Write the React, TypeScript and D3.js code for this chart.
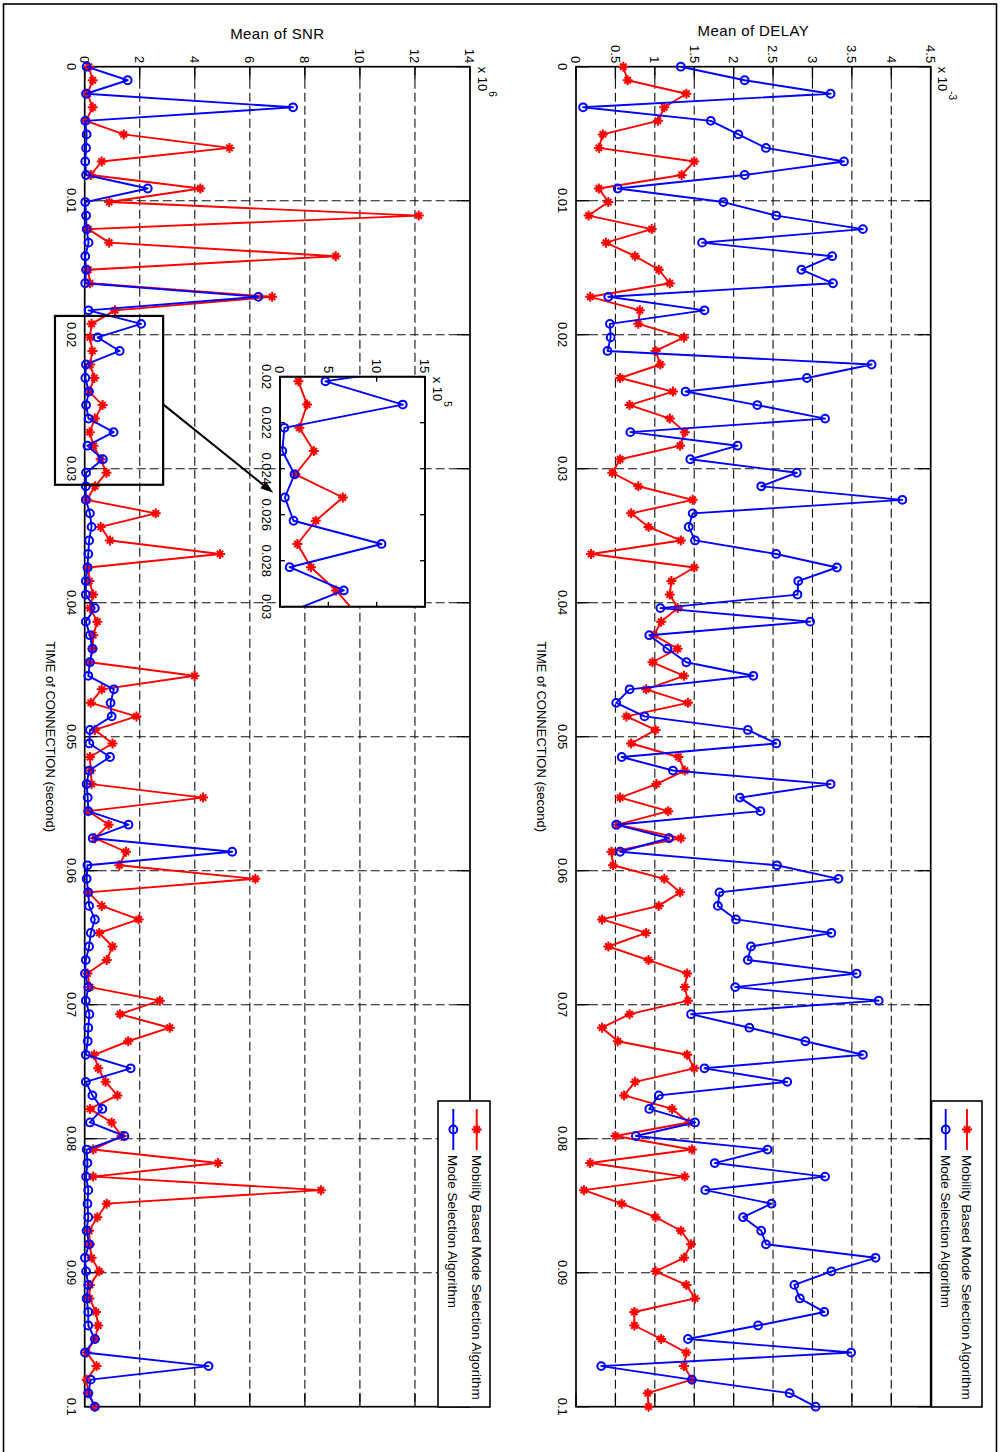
import * as d3 from 'd3'

// page is the figure turned a quarter turn clockwise; everything is drawn
// in the figure's own frame and rotated at the end
const PAGE_W = 1002
const PAGE_H = 1452
const FONT = '"Liberation Sans", Arial, Helvetica, sans-serif'

// 100 samples between 0 and 0.1 s
const timeSamples = d3.range(100).map((i) => (i * 0.1) / 99)

const timeTicks = [0, 0.01, 0.02, 0.03, 0.04, 0.05, 0.06, 0.07, 0.08, 0.09, 0.1]
const timeTickLabels = ['0', '0.01', '0.02', '0.03', '0.04', '0.05', '0.06', '0.07', '0.08', '0.09', '0.1']
const delayTicks = [0, 0.5, 1, 1.5, 2, 2.5, 3, 3.5, 4, 4.5]
const delayTickLabels = ['0', '0.5', '1', '1.5', '2', '2.5', '3', '3.5', '4', '4.5']
const snrTicks = [0, 2, 4, 6, 8, 10, 12, 14]
const snrTickLabels = ['0', '2', '4', '6', '8', '10', '12', '14']
const zoomTimeTicks = [0.02, 0.022, 0.024, 0.026, 0.028, 0.03]
const zoomTimeTickLabels = ['0.02', '0.022', '0.024', '0.026', '0.028', '0.03']
const zoomSnrTicks = [0, 0.5, 1, 1.5]
const zoomSnrTickLabels = ['0', '5', '10', '15']

const seriesNames = ['Mobility Based Mode Selection Algorithm', 'Mode Selection Algorithm']
const seriesColors = ['#ff0000', '#0000ff']

// mean delay, x 10^-3
const delayMobility = [
  0.6, 0.655, 1.4, 1.12, 1.04, 0.34, 0.29, 1.5, 1.34, 0.29, 0.41, 0.16, 0.96, 0.38, 0.75, 1.05, 1.19, 0.18, 0.81, 0.79, 1.37, 1.01, 1.07, 0.56, 1.23,
  0.68, 1.19, 1.38, 1.32, 0.56, 0.46, 0.79, 1.48, 0.7, 0.92, 1.33, 0.19, 1.5, 1.21, 1.19, 1.29, 1.08, 0.99, 1.29, 0.97, 1.37, 0.89, 1.42, 0.64, 1.01,
  0.7, 1.3, 1.38, 1.02, 0.56, 1.17, 0.53, 1.33, 0.45, 0.47, 1.12, 1.32, 1.05, 0.33, 0.89, 0.41, 0.92, 1.41, 1.38, 1.42, 0.68, 0.33, 0.53, 1.41, 1.5,
  0.75, 0.61, 1.22, 1.43, 0.5, 1.47, 0.18, 1.38, 0.1, 0.58, 1.01, 1.33, 1.46, 1.37, 1.01, 1.4, 1.51, 0.74, 0.74, 1.08, 1.4, 1.37, 1.47, 0.91, 0.92,
]
const delayBaseline = [
  1.33, 2.14, 3.23, 0.09, 1.71, 2.06, 2.41, 3.4, 2.14, 0.53, 1.87, 2.54, 3.64, 1.6, 3.25, 2.86, 3.26, 0.41, 1.63, 0.43, 0.44, 0.4, 3.75, 2.93, 1.39,
  2.3, 3.16, 0.69, 2.05, 1.45, 2.8, 2.35, 4.14, 1.48, 1.43, 1.51, 2.54, 3.31, 2.82, 2.81, 1.07, 2.97, 0.93, 1.16, 1.4, 2.25, 0.68, 0.51, 0.87, 2.18,
  2.54, 0.58, 1.23, 3.23, 2.08, 2.34, 0.51, 1.18, 0.56, 2.55, 3.33, 1.82, 1.8, 2.03, 3.24, 2.22, 2.18, 3.56, 2.02, 3.84, 1.46, 2.2, 2.91, 3.64, 1.63,
  2.68, 1.05, 0.93, 1.51, 0.76, 2.43, 1.76, 3.16, 1.64, 2.48, 2.12, 2.35, 2.41, 3.8, 3.24, 2.77, 2.84, 3.15, 2.31, 1.42, 3.49, 0.32, 1.47, 2.71, 3.04,
]

// mean SNR, x 10^6
const snrMobility = [
  0.15, 0.29, 0.1, 0.29, 0.05, 1.42, 5.26, 0.62, 0.22, 4.2, 0.89, 12.14, 0.13, 0.89, 9.12, 0.13, 0.19, 6.81, 1.1, 0.25,
  0.19, 0.28, 0.2, 0.35, 0.16, 0.65, 0.37, 0.18, 0.32, 0.58, 0.79,
  0.37, 0.08, 2.58, 0.58, 0.92, 4.92, 0.13, 0.17, 0.31, 0.19, 0.46, 0.31, 0.29, 0.19, 3.99, 0.62,
  0.22, 1.88, 0.37, 1.01, 0.19, 0.22, 0.25, 4.3, 0.13, 0.87, 0.37, 1.5, 1.26, 6.2, 0.13, 0.62, 1.96, 0.53, 1.01, 0.8, 0.1, 0.19, 2.73, 1.28, 3.09, 1.58, 0.34, 0.49,
  0.76, 1.19, 0.19, 0.98, 1.34, 0.31, 4.84, 0.31, 8.58, 0.8, 0.46, 0.16, 0.19, 0.25, 0.53, 0.19, 0.17, 0.41, 0.49, 0.37, 0.07, 0.43, 0.07, 0.13, 0.37,
]
const snrBaseline = [
  0.07, 1.56, 0.05, 7.57, 0.02, 0.07, 0.05, 0.02, 0.05, 2.29, 0.02, 0.05, 0.07, 0.14, 0.02, 0.05, 0.02, 6.31, 0.14, 2.05,
  0.47, 1.27, 0.045, 0.024, 0.15, 0.05, 0.14, 1.05, 0.1, 0.66, 0.05,
  0.04, 0.04, 0.19, 0.25, 0.16, 0.13, 0.1, 0.04, 0.04, 0.37, 0.04, 0.19, 0.28, 0.19, 0.13, 1.06,
  0.94, 0.98, 0.19, 0.17, 0.92, 0.16, 0.07, 0.11, 0.13, 1.59, 0.29, 5.36, 0.1, 0.07, 0.13, 0.16, 0.37, 0.22, 0.16, 0.04, 0.01, 0.13, 0.04, 0.17, 0.13, 0.11, 0.04, 1.67,
  0.04, 0.28, 0.64, 0.19, 1.44, 0.07, 0.1, 0.05, 0.13, 0.1, 0.13, 0.07, 0.16, 0.01, 0.05, 0.13, 0.07, 0.13, 0.13, 0.37, 0.01, 4.5, 0.22, 0.13, 0.37,
]

// zoomed region marked on the SNR axes (time, SNR x 10^6)
const zoomBox = { t0: 0.0186, t1: 0.0312, s0: -1.08, s1: 2.85 }
const arrowFrom = { t: 0.0252, s: 2.85 }
const arrowTo = { t: 0.0318, s: 6.85 }

type Scale = d3.ScaleLinear<number, number>

function Marker({ kind, x, y, color }: { kind: string; x: number; y: number; color: string }) {
  if (kind === 'circle') {
    return <circle cx={x} cy={y} r={3.9} fill="none" stroke={color} strokeWidth={2} />
  }
  const d = `M${x - 5},${y}h10M${x},${y - 5}v10M${x - 3.2},${y - 3.2}l6.4,6.4M${x - 3.2},${y + 3.2}l6.4,-6.4`
  return <path d={d} stroke={color} strokeWidth={2} fill="none" />
}

function Series({ values, x, y, idx, clip }: { values: number[]; x: Scale; y: Scale; idx: number; clip?: string }) {
  const pts: [number, number][] = values.map((v, i) => [x(timeSamples[i]), y(v)])
  const line = d3.line<[number, number]>()
  const color = seriesColors[idx]
  const kind = idx === 0 ? 'star' : 'circle'
  return (
    <g clipPath={clip}>
      <path d={line(pts) ?? ''} fill="none" stroke={color} strokeWidth={1.9} strokeLinejoin="round" />
      {pts.map(([px, py], i) => (
        <Marker key={i} kind={kind} x={px} y={py} color={color} />
      ))}
    </g>
  )
}

function Axes(props: {
  x: Scale
  y: Scale
  xTicks: number[]
  xLabels: string[]
  yTicks: number[]
  yLabels: string[]
  tickLen: number
  grid: boolean
  exponent: string
  fill?: string
}) {
  const { x, y, xTicks, xLabels, yTicks, yLabels, tickLen, grid, exponent } = props
  const [u0, u1] = x.range()
  const [vb, vt] = y.range()
  return (
    <g fontFamily={FONT} fontSize={13}>
      {props.fill && <rect x={u0} y={vt} width={u1 - u0} height={vb - vt} fill={props.fill} />}
      {grid && (
        <g stroke="#111" strokeWidth={1.1} strokeDasharray="9,4">
          {xTicks.slice(1, -1).map((t) => (
            <line key={t} x1={x(t)} x2={x(t)} y1={vb} y2={vt} />
          ))}
          {yTicks.slice(1, -1).map((t) => (
            <line key={t} x1={u0} x2={u1} y1={y(t)} y2={y(t)} />
          ))}
        </g>
      )}
      <g stroke="#000" strokeWidth={1.3}>
        {xTicks.map((t) => (
          <g key={t}>
            <line x1={x(t)} x2={x(t)} y1={vb} y2={vb - tickLen} />
            <line x1={x(t)} x2={x(t)} y1={vt} y2={vt + tickLen} />
          </g>
        ))}
        {yTicks.map((t) => (
          <g key={t}>
            <line x1={u0} x2={u0 + tickLen} y1={y(t)} y2={y(t)} />
            <line x1={u1} x2={u1 - tickLen} y1={y(t)} y2={y(t)} />
          </g>
        ))}
      </g>
      <rect x={u0} y={vt} width={u1 - u0} height={vb - vt} fill="none" stroke="#000" strokeWidth={1.7} />
      {xTicks.map((t, i) => (
        <text key={t} x={x(t)} y={vb + 18} textAnchor="middle">
          {xLabels[i]}
        </text>
      ))}
      {yTicks.map((t, i) => (
        <text key={t} x={u0 - 3.5} y={y(t)} dy="0.36em" textAnchor="end">
          {yLabels[i]}
        </text>
      ))}
      <text x={u0} y={vt - 7.5}>
        x 10
        <tspan dy={-11} fontSize={10}>
          {exponent}
        </tspan>
      </text>
    </g>
  )
}

function Legend({ u, v, w, h, rows }: { u: number; v: number; w: number; h: number; rows: number[] }) {
  return (
    <g fontFamily={FONT} fontSize={13.5}>
      <rect x={u} y={v} width={w} height={h} fill="#fff" stroke="#000" strokeWidth={1.6} />
      {seriesNames.map((name, i) => (
        <g key={name}>
          <line x1={u + 8} x2={u + 49} y1={v + rows[i]} y2={v + rows[i]} stroke={seriesColors[i]} strokeWidth={1.9} />
          <Marker kind={i === 0 ? 'star' : 'circle'} x={u + 28.5} y={v + rows[i]} color={seriesColors[i]} />
          <text x={u + 54} y={v + rows[i]} dy="0.36em">
            {name}
          </text>
        </g>
      ))}
    </g>
  )
}

export default function App() {
  const x = d3.scaleLinear().domain([0, 0.1]).range([66.7, 1406.7])
  const yDelay = d3.scaleLinear().domain([0, 4.5]).range([426, 71.3])
  const ySnr = d3.scaleLinear().domain([0, 14]).range([917.3, 532])
  const xZoom = d3.scaleLinear().domain([0.02, 0.03]).range([376.7, 606.7])
  const yZoom = d3.scaleLinear().domain([0, 1.5]).range([722, 577])

  const timeMid = (x.range()[0] + x.range()[1]) / 2

  const ax0 = x(arrowFrom.t)
  const ay0 = ySnr(arrowFrom.s)
  const ax1 = x(arrowTo.t)
  const ay1 = ySnr(arrowTo.s)
  const ang = Math.atan2(ay1 - ay0, ax1 - ax0)
  const headLen = 13
  const headW = 4.5
  const bx = ax1 - headLen * Math.cos(ang)
  const by = ay1 - headLen * Math.sin(ang)
  const head = `M${ax1},${ay1}L${bx - headW * Math.sin(ang)},${by + headW * Math.cos(ang)}L${bx + headW * Math.sin(ang)},${by - headW * Math.cos(ang)}Z`

  return (
    <svg
      width={PAGE_W}
      height={PAGE_H}
      style={{ position: 'absolute', left: 0, top: 0, display: 'block', background: '#fff' }}
    >
      <rect x={0} y={0} width={PAGE_W} height={PAGE_H} fill="#fff" />
      <rect x={3.5} y={4} width={993} height={1470} fill="none" stroke="#000" strokeWidth={1.6} />
      <defs>
        <clipPath id="zoomClip">
          <rect x={376.7} y={577} width={230} height={145} />
        </clipPath>
      </defs>
      <g transform={`translate(${PAGE_W},0) rotate(90)`}>
        {/* DELAY subplot */}
        <Axes
          x={x}
          y={yDelay}
          xTicks={timeTicks}
          xLabels={timeTickLabels}
          yTicks={delayTicks}
          yLabels={delayTickLabels}
          tickLen={13}
          grid
          exponent="-3"
        />
        <Series values={delayMobility} x={x} y={yDelay} idx={0} />
        <Series values={delayBaseline} x={x} y={yDelay} idx={1} />
        <text
          transform={`translate(35.5,${(yDelay.range()[0] + yDelay.range()[1]) / 2}) rotate(-90)`}
          textAnchor="middle"
          fontFamily={FONT}
          fontSize={15}
          letterSpacing={0.4}
        >
          Mean of DELAY
        </text>
        <text x={timeMid} y={465} textAnchor="middle" fontFamily={FONT} fontSize={13}>
          TIME of CONNECTION (second)
        </text>
        <Legend u={1101} v={20} w={306} h={50.5} rows={[15, 36.3]} />

        {/* SNR subplot */}
        <Axes
          x={x}
          y={ySnr}
          xTicks={timeTicks}
          xLabels={timeTickLabels}
          yTicks={snrTicks}
          yLabels={snrTickLabels}
          tickLen={13}
          grid
          exponent="6"
        />
        <Series values={snrMobility} x={x} y={ySnr} idx={0} />
        <Series values={snrBaseline} x={x} y={ySnr} idx={1} />
        <text
          transform={`translate(39,${(ySnr.range()[0] + ySnr.range()[1]) / 2}) rotate(-90)`}
          textAnchor="middle"
          fontFamily={FONT}
          fontSize={15}
          letterSpacing={0.4}
        >
          Mean of SNR
        </text>
        <text x={timeMid} y={956} textAnchor="middle" fontFamily={FONT} fontSize={13}>
          TIME of CONNECTION (second)
        </text>
        <Legend u={1101} v={512} w={306} h={52} rows={[13.3, 36.7]} />

        {/* zoomed inset */}
        <Axes
          x={xZoom}
          y={yZoom}
          xTicks={zoomTimeTicks}
          xLabels={zoomTimeTickLabels}
          yTicks={zoomSnrTicks}
          yLabels={zoomSnrTickLabels}
          tickLen={5}
          grid={false}
          exponent="5"
          fill="#fff"
        />
        <Series values={snrMobility} x={xZoom} y={yZoom} idx={0} clip="url(#zoomClip)" />
        <Series values={snrBaseline} x={xZoom} y={yZoom} idx={1} clip="url(#zoomClip)" />
        <rect
          x={xZoom.range()[0]}
          y={yZoom.range()[1]}
          width={230}
          height={145}
          fill="none"
          stroke="#000"
          strokeWidth={1.7}
        />

        {/* zoom box and arrow */}
        <rect
          x={x(zoomBox.t0)}
          y={ySnr(zoomBox.s1)}
          width={x(zoomBox.t1) - x(zoomBox.t0)}
          height={ySnr(zoomBox.s0) - ySnr(zoomBox.s1)}
          fill="none"
          stroke="#000"
          strokeWidth={2.2}
        />
        <line x1={ax0} y1={ay0} x2={bx} y2={by} stroke="#000" strokeWidth={2} />
        <path d={head} fill="#000" />
      </g>
    </svg>
  )
}
